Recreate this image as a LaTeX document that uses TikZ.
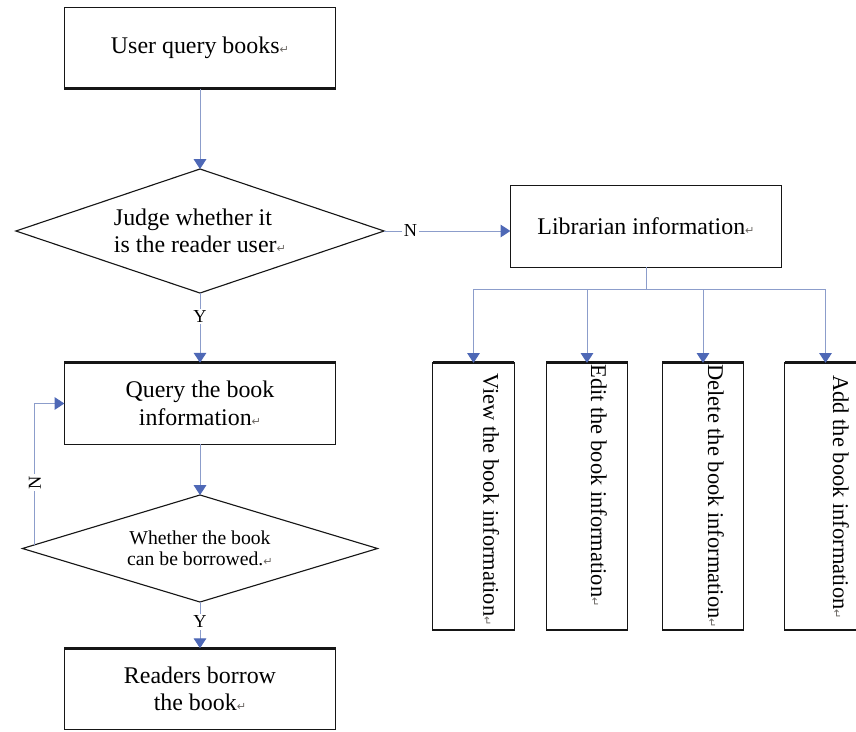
\documentclass[tikz,border=0pt]{standalone}
\usepackage{fontspec}
\setmainfont{Liberation Serif}
\newfontfamily\markfont{DejaVu Sans}
\usetikzlibrary{positioning,shapes.geometric,arrows.meta,calc}
\definecolor{ink}{HTML}{161616}
\definecolor{flowline}{HTML}{8C9DCB}
\definecolor{flowtip}{HTML}{4E68B6}
\definecolor{markgray}{HTML}{6E6A66}
\newcommand{\parmark}{{\markfont\fontsize{8}{8}\selectfont\textcolor{markgray}{↵}}}
\tikzset{
  stepbox/.style={draw=ink,line width=0.8pt,rectangle,minimum width=6.78cm,minimum height=2.04cm,inner sep=0pt,outer sep=0pt,align=center,font=\fontsize{17}{19.5}\selectfont},
  choice/.style={draw=ink,line width=0.8pt,diamond,inner sep=0pt,outer sep=0pt},
  sidebox/.style={draw=ink,line width=0.8pt,rectangle,minimum width=2.03cm,minimum height=6.68cm,inner sep=0pt,outer sep=0pt},
  sidetext/.style={rotate=-90,anchor=west,inner sep=0pt,font=\fontsize{16}{16}\selectfont},
  flow/.style={draw=flowline,line width=0.7pt,-{Triangle[width=9pt,length=7pt,color=flowtip]}},
  plain/.style={draw=flowline,line width=0.7pt},
  yn/.style={font=\fontsize{13}{13}\selectfont,fill=white,inner sep=1.2pt},
  heavy/.style={draw=ink,line width=2pt}
}
\begin{document}
\begin{tikzpicture}[x=0.025cm,y=-0.025cm]
  \useasboundingbox (0,0) rectangle (856,731);
  % reader side
  \node[stepbox] (userquery) at (200,48) {User query books\parmark};
  \node[choice,aspect=3,align=left,minimum width=9.2cm,minimum height=3.1cm,font=\fontsize{17}{19.5}\selectfont] (judge) at (200,231) {Judge whether it\\is the reader user\parmark};
  \node[stepbox] (bookquery) at (200,403.5) {Query the book\\information\parmark};
  \node[choice,aspect=3.3,align=center,minimum width=8.875cm,minimum height=2.675cm,font=\fontsize{14}{15}\selectfont] (borrowable) at (200,548.5) {Whether the book\\can be borrowed.\parmark};
  \node[stepbox] (borrow) at (200,689) {Readers borrow\\the book\parmark};
  \draw[heavy] (userquery.south west) -- (userquery.south east);
  \draw[heavy] (bookquery.north west) -- (bookquery.north east);
  \draw[heavy] (borrow.north west) -- (borrow.north east);
  \draw[flow] (userquery.south) -- (judge.north);
  \draw[flow] (judge.south) -- node[yn,pos=0.34] {Y} (bookquery.north);
  \draw[flow] (bookquery.south) -- (borrowable.north);
  \draw[flow] (borrowable.south) -- node[yn,pos=0.43] {Y} (borrow.north);
  \draw[flow] ($(borrowable.west)!0.07!(borrowable.north)$) |- node[yn,rotate=90,pos=0.22] {N} (bookquery.west);
  % librarian side
  \node[stepbox] (librarian) at (646,226.5) {Librarian information\parmark};
  \draw[flow] (judge.east) -- node[yn,pos=0.21] {N} (judge.east -| librarian.west);
  \coordinate (bus) at (646,289);
  \foreach \name/\x/\tx/\ty/\lab in {view/473.5/491/373/{View the book information},
      edit/587/599/364/{Edit the book information},
      delete/703/716/364/{Delete the book information},
      add/825.5/841/375/{Add the book information}}{
    \node[sidebox] (\name) at (\x,496.5) {};
    \node[sidetext] (\name text) at (\tx,\ty) {\lab\parmark};
    \draw[heavy] (\name.north west) -- (\name.north east);
    \draw[ink,line width=1.2pt] (\name.south west) -- (\name.south east);}
  \draw[plain] (librarian.south) -- (bus);
  \draw[plain] (view.north |- bus) -- (add.north |- bus);
  \foreach \name in {view,edit,delete,add}
    \draw[flow] (\name.north |- bus) -- (\name.north);
\end{tikzpicture}
\end{document}
